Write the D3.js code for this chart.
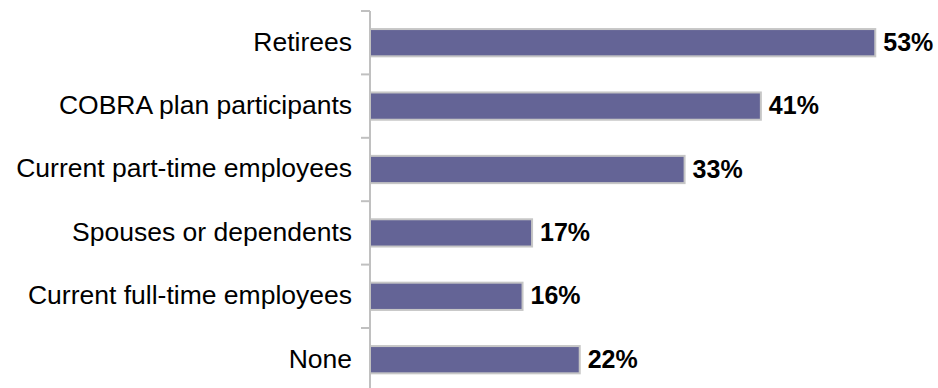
<!DOCTYPE html>
<html>
<head>
<meta charset="utf-8">
<script src="https://cdn.jsdelivr.net/npm/d3@7"></script>
<style>
  html, body { margin: 0; padding: 0; background: #fff; }
  svg { display: block; }
</style>
</head>
<body>
<svg id="chart" width="938" height="388"></svg>
<script>
const categories = [
  "Retirees",
  "COBRA plan participants",
  "Current part-time employees",
  "Spouses or dependents",
  "Current full-time employees",
  "None"
];
const values = [53, 41, 33, 17, 16, 22];
const valueLabels = ["53%", "41%", "33%", "17%", "16%", "22%"];

const svg = d3.select("#chart");
const axisX = 370;
const plotTop = 11, bandH = 63.4;

const y = d3.scaleBand()
  .domain(categories)
  .range([plotTop, plotTop + bandH * categories.length])
  .paddingInner(0.57)
  .paddingOuter(0.285);

const x = d3.scaleLinear().domain([0, 60]).range([axisX, axisX + 572]);

// bars
svg.append("g").selectAll("rect")
  .data(categories)
  .enter().append("rect")
  .attr("x", x(0))
  .attr("y", d => y(d))
  .attr("width", (d, i) => x(values[i]) - x(0))
  .attr("height", y.bandwidth())
  .attr("fill", "#646496")
  .attr("stroke", "#c6c6c6")
  .attr("stroke-width", 2);

// category axis
const axis = d3.axisLeft(y).tickSize(0).tickPadding(18);
const gAxis = svg.append("g").attr("transform", `translate(${axisX},0)`).call(axis);
gAxis.select(".domain").remove();
gAxis.selectAll("text")
  .attr("font-family", "Liberation Sans, Arial, sans-serif")
  .attr("font-size", 26.5)
  .attr("dy", "0.3em")
  .attr("fill", "#000");

// axis line and tick marks between categories
svg.append("line")
  .attr("x1", axisX).attr("x2", axisX)
  .attr("y1", plotTop).attr("y2", 388)
  .attr("stroke", "#c0c0c0").attr("stroke-width", 2);
const boundaries = d3.range(categories.length + 1).map(i => plotTop + i * bandH);
svg.append("g").selectAll("line")
  .data(boundaries)
  .enter().append("line")
  .attr("x1", axisX - 9).attr("x2", axisX)
  .attr("y1", d => d).attr("y2", d => d)
  .attr("stroke", "#c0c0c0").attr("stroke-width", 2);

// value labels
svg.append("g").selectAll("text")
  .data(categories)
  .enter().append("text")
  .attr("x", (d, i) => x(values[i]) + 8)
  .attr("y", d => y(d) + y.bandwidth() / 2)
  .attr("dy", "0.32em")
  .attr("font-family", "Liberation Sans, Arial, sans-serif")
  .attr("font-size", 25)
  .attr("font-weight", "bold")
  .attr("fill", "#000")
  .text((d, i) => valueLabels[i]);
</script>
</body>
</html>
